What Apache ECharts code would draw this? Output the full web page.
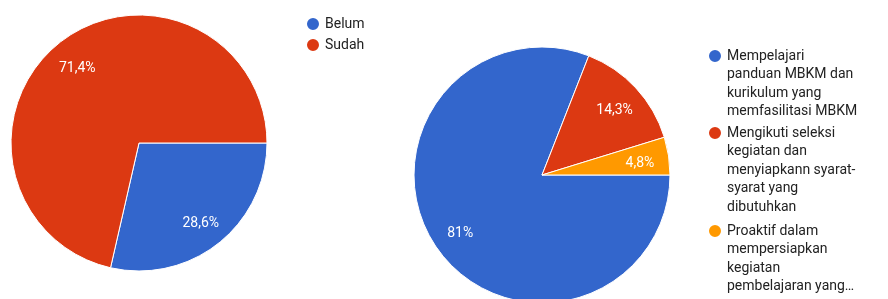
<!DOCTYPE html>
<html>
<head>
<meta charset="utf-8">
<script src="https://cdn.jsdelivr.net/npm/echarts@6/dist/echarts.min.js"></script>
<style>
  html, body { margin: 0; padding: 0; background: #fff; }
  #chart { width: 888px; height: 299px; }
</style>
</head>
<body>
<div id="chart"></div>
<script>
// left pie
const statusNames = ['Belum', 'Sudah'];
const statusValues = [2, 5];

// right pie
const stepNames = [
  'Mempelajari panduan MBKM dan kurikulum yang memfasilitasi MBKM',
  'Mengikuti seleksi kegiatan dan menyiapkann syarat-syarat yang dibutuhkan',
  'Proaktif dalam mempersiapkan kegiatan pembelajaran yang...'
];
const stepValues = [17, 3, 1];
// legend text as it wraps in the picture
const stepLegendLines = [
  ['Mempelajari', 'panduan MBKM dan', 'kurikulum yang', 'memfasilitasi MBKM'],
  ['Mengikuti seleksi', 'kegiatan dan', 'menyiapkann syarat-', 'syarat yang', 'dibutuhkan'],
  ['Proaktif dalam', 'mempersiapkan', 'kegiatan', 'pembelajaran yang…']
];

const colors = ['#3366cc', '#dc3912', '#ff9900'];
const FONT = 'Roboto';
const LH = 18.5;

// percent with comma, like "28,6%" / "81%"
function pctLabel(values) {
  const total = values.reduce((a, b) => a + b, 0);
  return (p) => {
    let s = (p.value / total * 100).toFixed(1);
    if (s.endsWith('.0')) s = s.slice(0, -2);
    return s.replace('.', ',') + '%';
  };
}

// filled pie, no labels
function pieSeries(names, values, center, r) {
  return {
    type: 'pie',
    center: center,
    radius: r,
    startAngle: 0,
    clockwise: true,
    label: { show: false },
    labelLine: { show: false },
    itemStyle: { borderColor: '#fff', borderWidth: 1 },
    emphasis: { disabled: true },
    data: names.map((n, i) => ({ name: n, value: values[i], itemStyle: { color: colors[i] } }))
  };
}

// invisible ring just to put the % labels further out
function labelRing(names, values, center, r) {
  return {
    type: 'pie',
    center: center,
    radius: [r * 0.5, r],
    startAngle: 0,
    clockwise: true,
    silent: true,
    legendHoverLink: false,
    itemStyle: { color: 'transparent', borderWidth: 0 },
    label: {
      show: true,
      position: 'inner',
      offset: [0, 3],
      color: '#fff',
      fontFamily: FONT,
      fontSize: 14,
      formatter: pctLabel(values)
    },
    labelLine: { show: false },
    emphasis: { disabled: true },
    data: names.map((n, i) => ({ name: n, value: values[i] }))
  };
}

const chart = echarts.init(document.getElementById('chart'));

const legendText = { fontFamily: FONT, fontSize: 14, color: '#222' };

// one legend per right-hand item; blank lines on top keep the dot on the first line
const iconY = [56, 133, 231];
const stepLegends = stepNames.map((name, i) => {
  const n = stepLegendLines[i].length;
  const blank = new Array(n - 1).fill('');
  return {
    orient: 'vertical',
    left: 707,
    top: iconY[i] - (2 * n - 1) * LH / 2,
    padding: 0,
    icon: 'circle',
    itemWidth: 14,
    itemHeight: 14,
    data: [name],
    formatter: () => blank.concat(stepLegendLines[i]).join('\n'),
    textStyle: Object.assign({}, legendText, { lineHeight: LH })
  };
});

chart.setOption({
  animation: false,
  legend: [
    {
      orient: 'vertical',
      left: 305,
      top: 15,
      padding: 0,
      icon: 'circle',
      itemWidth: 14,
      itemHeight: 14,
      itemGap: 3,
      data: statusNames,
      textStyle: Object.assign({}, legendText, { lineHeight: 18 })
    }
  ].concat(stepLegends),
  series: [
    pieSeries(statusNames, statusValues, [139, 143], 128),
    labelRing(statusNames, statusValues, [139, 143], 128),
    pieSeries(stepNames, stepValues, [542, 175], 128),
    labelRing(stepNames, stepValues, [542, 175], 128)
  ]
});
</script>
</body>
</html>
